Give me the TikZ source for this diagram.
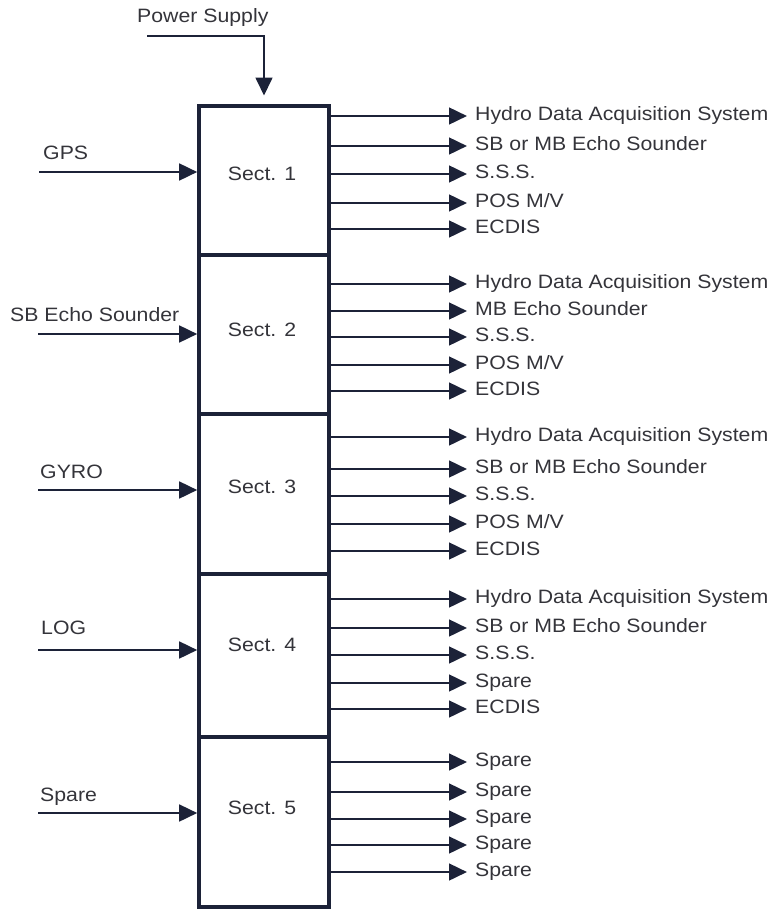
\documentclass[tikz,border=0pt]{standalone}
\usepackage{fontspec}
\setmainfont{Liberation Sans}[FakeStretch=1.1]
\usetikzlibrary{arrows.meta}
\definecolor{navy}{RGB}{28,34,56}
\definecolor{txtgray}{RGB}{52,52,58}

\begin{document}
\begin{tikzpicture}[x=0.3mm, y=-0.3mm, >={Triangle[length=5.4mm,width=5mm]},
      font=\fontsize{16.5pt}{19pt}\selectfont,
      sect/.style={draw=navy, line width=3pt, minimum width=39mm, inner sep=0pt},
      stxt/.style={text=txtgray},
      lbl/.style={text=txtgray, anchor=west, inner sep=0pt, text height=0.72em, text depth=0pt},
      outlbl/.style={lbl, inner xsep=2.4mm},
      wire/.style={draw=navy, line width=2.2pt}]
      \useasboundingbox (0,0) rectangle (774,909);
      % the five sections
      \node[sect, minimum height=44.7mm] (s1) at (264,180.5) {};
      \node[sect, minimum height=47.7mm] (s2) at (264,334.5) {};
      \node[sect, minimum height=48mm]   (s3) at (264,494)   {};
      \node[sect, minimum height=48.9mm] (s4) at (264,655.5) {};
      \node[sect, minimum height=51mm]   (s5) at (264,822)   {};
      \node[stxt] (t1) at (262,174) {Sect. 1};
      \node[stxt] (t2) at (262,330) {Sect. 2};
      \node[stxt] (t3) at (262,487) {Sect. 3};
      \node[stxt] (t4) at (262,645) {Sect. 4};
      \node[stxt] (t5) at (262,808) {Sect. 5};
      % power
      \node[lbl] (pwr) at (137,18) {Power Supply};
      \coordinate (pin) at (147,36);
      \draw[wire, ->, shorten >=2.6mm] (pin) -| (s1.north);
      % inputs
      \node[lbl] (gps)  at (43,155) {GPS};
      \node[lbl] (sbes) at (10,317) {SB Echo Sounder};
      \node[lbl] (gyro) at (40,474) {GYRO};
      \node[lbl] (log)  at (41,630) {LOG};
      \node[lbl] (spin) at (40,797) {Spare};
      \coordinate (i1) at (39,172); \coordinate (i2) at (38,334); \coordinate (i3) at (38,490);
      \coordinate (i4) at (38,650); \coordinate (i5) at (38,813);
      \draw[wire, ->] (i1) -- (i1 -| s1.west);  \draw[wire, ->] (i2) -- (i2 -| s2.west);
      \draw[wire, ->] (i3) -- (i3 -| s3.west);  \draw[wire, ->] (i4) -- (i4 -| s4.west);
      \draw[wire, ->] (i5) -- (i5 -| s5.west);
      % outputs, sect. 1
      \node[outlbl] (o11) at (467,116) {Hydro Data Acquisition System};
      \node[outlbl] (o12) at (467,146) {SB or MB Echo Sounder};
      \node[outlbl] (o13) at (467,174) {S.S.S.};
      \node[outlbl] (o14) at (467,203) {POS M/V};
      \node[outlbl] (o15) at (467,229) {ECDIS};
      \draw[wire, ->] (o11.west -| s1.east) -- (o11.west);  \draw[wire, ->] (o12.west -| s1.east) -- (o12.west);
      \draw[wire, ->] (o13.west -| s1.east) -- (o13.west);  \draw[wire, ->] (o14.west -| s1.east) -- (o14.west);
      \draw[wire, ->] (o15.west -| s1.east) -- (o15.west);
      % outputs, sect. 2
      \node[outlbl] (o21) at (467,284) {Hydro Data Acquisition System};
      \node[outlbl] (o22) at (467,311) {MB Echo Sounder};
      \node[outlbl] (o23) at (467,337) {S.S.S.};
      \node[outlbl] (o24) at (467,365) {POS M/V};
      \node[outlbl] (o25) at (467,391) {ECDIS};
      \draw[wire, ->] (o21.west -| s2.east) -- (o21.west);  \draw[wire, ->] (o22.west -| s2.east) -- (o22.west);
      \draw[wire, ->] (o23.west -| s2.east) -- (o23.west);  \draw[wire, ->] (o24.west -| s2.east) -- (o24.west);
      \draw[wire, ->] (o25.west -| s2.east) -- (o25.west);
      % outputs, sect. 3
      \node[outlbl] (o31) at (467,437) {Hydro Data Acquisition System};
      \node[outlbl] (o32) at (467,469) {SB or MB Echo Sounder};
      \node[outlbl] (o33) at (467,496) {S.S.S.};
      \node[outlbl] (o34) at (467,524) {POS M/V};
      \node[outlbl] (o35) at (467,551) {ECDIS};
      \draw[wire, ->] (o31.west -| s3.east) -- (o31.west);  \draw[wire, ->] (o32.west -| s3.east) -- (o32.west);
      \draw[wire, ->] (o33.west -| s3.east) -- (o33.west);  \draw[wire, ->] (o34.west -| s3.east) -- (o34.west);
      \draw[wire, ->] (o35.west -| s3.east) -- (o35.west);
      % outputs, sect. 4
      \node[outlbl] (o41) at (467,599) {Hydro Data Acquisition System};
      \node[outlbl] (o42) at (467,628) {SB or MB Echo Sounder};
      \node[outlbl] (o43) at (467,655) {S.S.S.};
      \node[outlbl] (o44) at (467,683) {Spare};
      \node[outlbl] (o45) at (467,709) {ECDIS};
      \draw[wire, ->] (o41.west -| s4.east) -- (o41.west);  \draw[wire, ->] (o42.west -| s4.east) -- (o42.west);
      \draw[wire, ->] (o43.west -| s4.east) -- (o43.west);  \draw[wire, ->] (o44.west -| s4.east) -- (o44.west);
      \draw[wire, ->] (o45.west -| s4.east) -- (o45.west);
      % outputs, sect. 5
      \node[outlbl] (o51) at (467,762) {Spare};
      \node[outlbl] (o52) at (467,792) {Spare};
      \node[outlbl] (o53) at (467,819) {Spare};
      \node[outlbl] (o54) at (467,845) {Spare};
      \node[outlbl] (o55) at (467,872) {Spare};
      \draw[wire, ->] (o51.west -| s5.east) -- (o51.west);  \draw[wire, ->] (o52.west -| s5.east) -- (o52.west);
      \draw[wire, ->] (o53.west -| s5.east) -- (o53.west);  \draw[wire, ->] (o54.west -| s5.east) -- (o54.west);
      \draw[wire, ->] (o55.west -| s5.east) -- (o55.west);
    \end{tikzpicture}
\end{document}
